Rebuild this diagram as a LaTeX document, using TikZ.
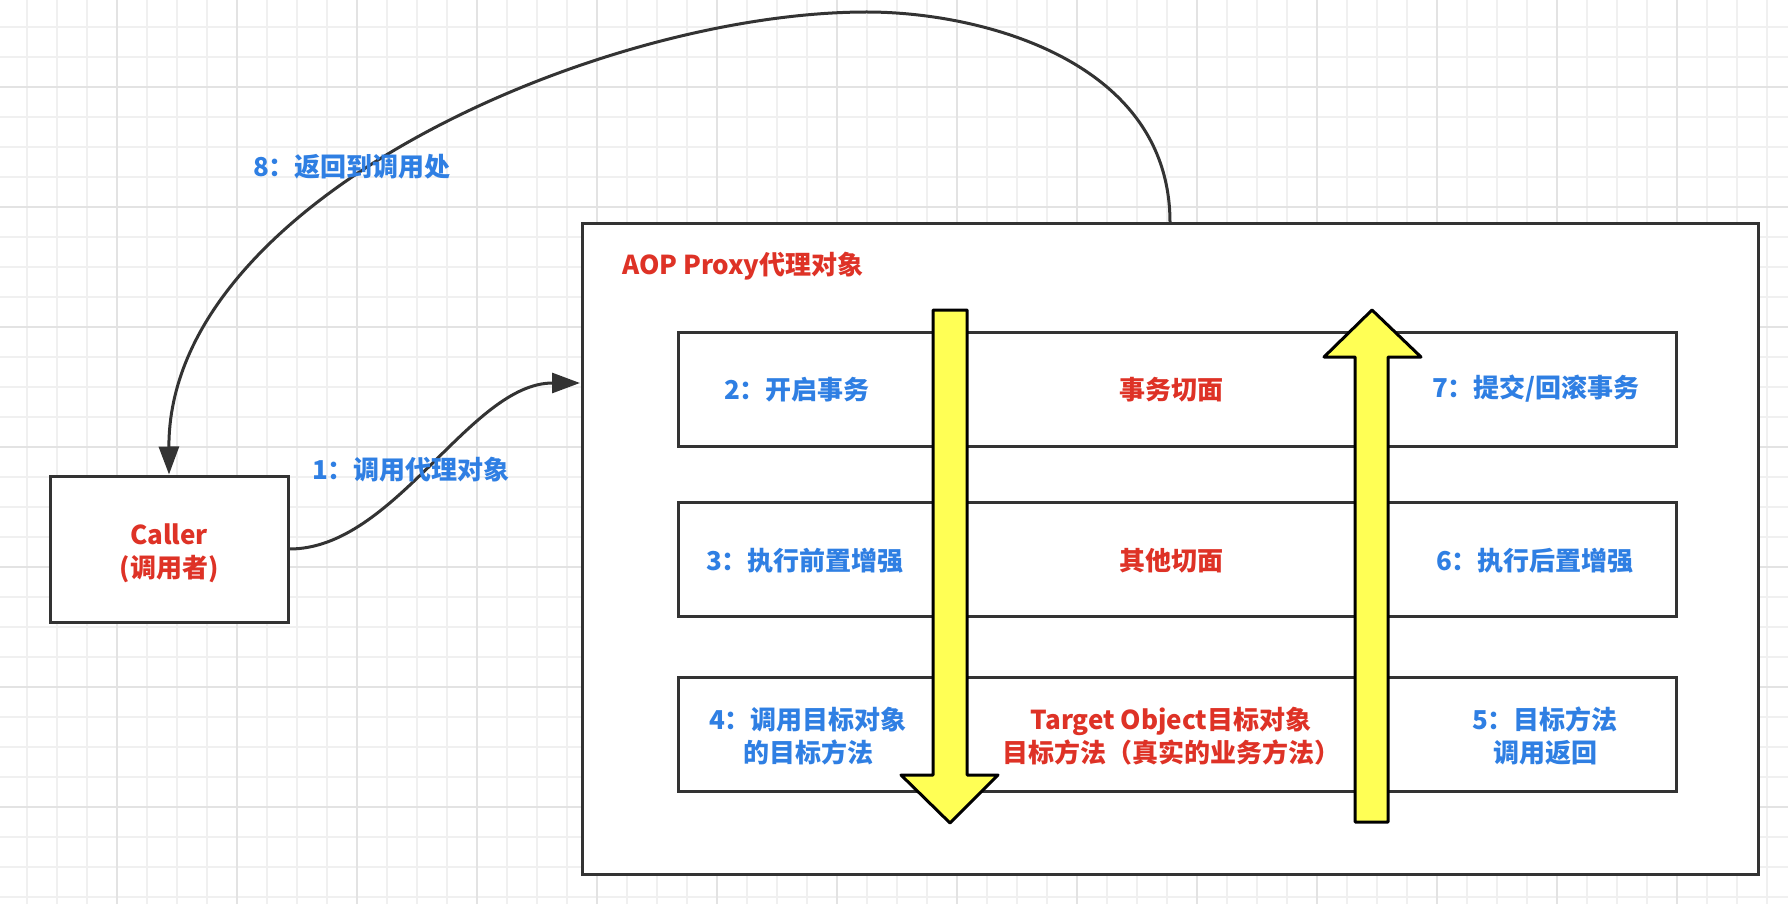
\documentclass[tikz,border=0pt]{standalone}
\usepackage{fontspec}
\setmainfont{Noto Sans CJK SC}
\usetikzlibrary{arrows.meta}
\definecolor{lineC}{HTML}{333333}
\definecolor{txtBlue}{HTML}{2F7FE3}
\definecolor{txtRed}{HTML}{DE3226}
\definecolor{yel}{HTML}{FFFF55}
\definecolor{gridMinor}{HTML}{F0F0F0}
\definecolor{gridMajor}{HTML}{E3E3E3}
\begin{document}
\begin{tikzpicture}[x=1pt,y=-1pt,
  boxstyle/.style={draw=lineC, line width=3pt, fill=white, inner sep=0pt},
  bluetxt/.style={text=txtBlue, font=\fontsize{26}{33}\selectfont\bfseries, align=center, inner sep=0pt},
  redtxt/.style={text=txtRed, font=\fontsize{26}{33}\selectfont\bfseries, align=center, inner sep=0pt},
  redtitle/.style={text=txtRed, font=\fontsize{26}{33}\selectfont\bfseries, inner sep=0pt},
  conn/.style={draw=lineC, line width=3pt, -{Triangle[length=28pt,width=20pt]}},
  flowarrow/.style={draw=black, line width=3pt, fill=yel, line join=round},
  minorgrid/.style={draw=gridMinor, line width=1.5pt},
  majorgrid/.style={draw=gridMajor, line width=1.5pt}]
\useasboundingbox (0,0) rectangle (1788,904);
\fill[white] (0,0) rectangle (1788,904);
% grid
\foreach \gx in {27,57,...,1787} \draw[minorgrid] (\gx,0) -- (\gx,904);
\foreach \gy in {27,57,...,903} \draw[minorgrid] (0,\gy) -- (1788,\gy);
\foreach \gx in {117,237,...,1787} \draw[majorgrid] (\gx,0) -- (\gx,904);
\foreach \gy in {87,207,...,903} \draw[majorgrid] (0,\gy) -- (1788,\gy);

% proxy box
\node[boxstyle, minimum width=1176pt, minimum height=650pt] (proxy) at (1170,549) {};
\node[redtitle, anchor=west] (title) at (622,266) {AOP Proxy代理对象};

% rows
\node[boxstyle, minimum width=998pt, minimum height=114pt] (row1) at (1177,389) {};
\node[boxstyle, minimum width=998pt, minimum height=114pt] (row2) at (1177,559) {};
\node[boxstyle, minimum width=998pt, minimum height=114pt] (row3) at (1177,734) {};

% yellow flow arrows
\draw[flowarrow] (933,310) -- (967,310) -- (967,775) -- (998,775) -- (950,823) -- (901,775) -- (933,775) -- cycle;
\draw[flowarrow] (1355,822) -- (1388,822) -- (1388,357) -- (1421,357) -- (1372,310) -- (1324,357) -- (1355,357) -- cycle;

% row texts
\node[bluetxt] (t2) at (797,390) {2：开启事务};
\node[redtxt] (m1) at (1171,390) {事务切面};
\node[bluetxt] (t7) at (1536,389) {7：提交/回滚事务};
\node[bluetxt] (t3) at (805,561) {3：执行前置增强};
\node[redtxt] (m2) at (1171,561) {其他切面};
\node[bluetxt] (t6) at (1535,561) {6：执行后置增强};
\node[bluetxt] (t4) at (808,736) {4：调用目标对象\\的目标方法};
\node[redtxt] (m3) at (1171,736) {Target Object目标对象\\目标方法（真实的业务方法）};
\node[bluetxt] (t5) at (1545,736) {5：目标方法\\调用返回};

% caller
\node[boxstyle, minimum width=238pt, minimum height=146pt] (caller) at (169,549) {};
\node[redtxt] (callertxt) at (169,553) {Caller\\(调用者)};

% connectors
\coordinate (inP) at (580,383);
\coordinate (peak) at (867,12);
\draw[conn] (caller.east) .. controls (395,549) and (470,383) .. (inP);
\draw[conn] (proxy.north) .. controls (1170,60) and (980,12) .. (peak) .. controls (600,12) and (168,200) .. (caller.north);

% connector labels
\node[bluetxt] (l1) at (411,470) {1：调用代理对象};
\node[bluetxt] (l8) at (352,167) {8：返回到调用处};
\end{tikzpicture}
\end{document}
